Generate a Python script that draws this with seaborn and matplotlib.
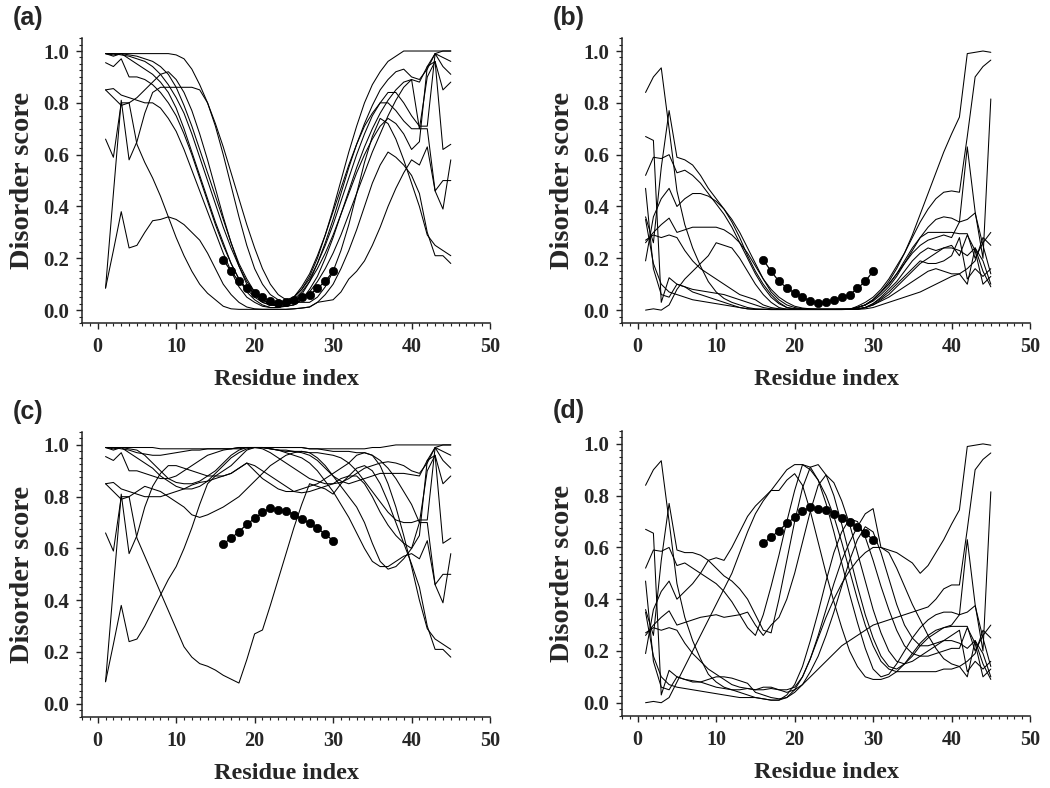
import numpy as np
import pandas as pd
import matplotlib
matplotlib.use("Agg")
import matplotlib.pyplot as plt
from matplotlib.ticker import MultipleLocator, FormatStrFormatter
import seaborn as sns

# ---------------- data ----------------
residues = list(range(1, 46))
dot_residues = list(range(16, 31))
dots_low = [.194, .150, .111, .086, .066, .050, .035, .026, .032, .041, .050, .059, .084, .111, .150]
dots_high = [.618, .639, .665, .693, .716, .739, .757, .748, .746, .731, .714, .697, .678, .655, .630]

# flanks shared by panels (a) and (c): residues 1-5 and 41-45
ac_left = [
    [.99, .99, .99, .99, .99],
    [.99, .985, .99, .985, .98],
    [.99, .98, .99, .97, .95],
    [.955, .94, .97, .90, .90],
    [.85, .855, .83, .82, .81],
    [.85, .82, .79, .80, .82],
    [.085, .45, .81, .58, .65],
    [.66, .59, .80, .80, .64],
    [.085, .23, .38, .24, .25],
    [.99, .99, .985, .98, .97],
]
ac_right = [
    [1.0, 1.0, 1.0, 1.0, 1.0],
    [.89, .93, .99, 1.0, 1.0],
    [.88, .94, .99, .975, .96],
    [.71, .71, .99, .94, .91],
    [.65, .94, .96, .85, .88],
    [.70, .90, .96, .62, .64],
    [.40, .29, .25, .23, .21],
    [.45, .30, .21, .21, .18],
    [.56, .63, .46, .39, .58],
    [.70, .70, .46, .50, .50],
]
# residues 6-40
a_mid = [
    [.99, .99, .99, .99, .985, .97, .93, .87, .80, .72, .63, .53, .43, .33, .24, .16, .10, .06, .04, .05, .08, .13, .20, .29, .39, .50, .61, .71, .80, .87, .92, .96, .98, 1.0, 1.0],
    [.97, .96, .94, .91, .86, .79, .71, .62, .53, .44, .35, .26, .18, .12, .07, .04, .025, .02, .02, .03, .06, .11, .18, .26, .35, .45, .55, .64, .72, .79, .85, .89, .92, .93, .90],
    [.93, .91, .88, .84, .78, .70, .61, .52, .43, .34, .26, .18, .12, .07, .04, .02, .01, .01, .015, .02, .04, .08, .13, .20, .28, .37, .46, .55, .63, .70, .76, .81, .85, .88, .89],
    [.89, .87, .84, .80, .75, .68, .60, .51, .42, .33, .25, .18, .12, .08, .05, .03, .02, .02, .03, .05, .08, .12, .18, .25, .33, .42, .51, .60, .68, .75, .80, .84, .84, .80, .75],
    [.80, .80, .78, .74, .69, .62, .54, .46, .38, .30, .22, .15, .09, .05, .03, .015, .01, .01, .02, .04, .07, .11, .16, .22, .29, .37, .45, .53, .60, .66, .71, .74, .72, .68, .62],
    [.85, .88, .91, .92, .89, .84, .77, .68, .58, .47, .36, .26, .17, .10, .06, .03, .02, .02, .03, .05, .09, .14, .21, .29, .38, .47, .56, .64, .71, .76, .80, .80, .77, .73, .70],
    [.76, .84, .86, .86, .86, .86, .86, .85, .80, .71, .60, .48, .36, .25, .16, .10, .06, .04, .03, .03, .03, .03, .05, .09, .15, .23, .33, .45, .57, .67, .74, .72, .66, .58, .49],
    [.57, .51, .44, .36, .28, .21, .15, .10, .065, .04, .015, .005, .003, .003, .003, .003, .003, .003, .003, .005, .008, .012, .03, .06, .10, .16, .23, .31, .40, .49, .56, .61, .59, .56, .52],
    [.30, .345, .35, .36, .35, .33, .30, .27, .22, .16, .10, .06, .03, .012, .005, .003, .003, .003, .003, .005, .008, .012, .03, .035, .04, .07, .12, .15, .19, .25, .32, .40, .47, .53, .58],
    [.96, .94, .91, .87, .82, .76, .68, .59, .50, .41, .32, .24, .17, .11, .07, .04, .02, .015, .015, .02, .04, .07, .11, .16, .22, .29, .37, .45, .53, .61, .68, .75, .81, .86, .89],
]
c_mid = [
    [.99, .99, .985, .985, .985, .985, .985, .985, .985, .985, .985, .985, .985, .99, .99, .99, .99, .99, .99, .99, .99, .985, .985, .985, .985, .985, .985, .985, .985, .99, .99, .995, 1.0, 1.0, 1.0],
    [.96, .93, .90, .87, .855, .85, .85, .86, .88, .90, .93, .96, .98, .99, .99, .985, .97, .95, .93, .91, .89, .87, .86, .85, .85, .855, .87, .89, .91, .92, .93, .935, .93, .92, .90],
    [.93, .91, .88, .86, .84, .83, .83, .84, .86, .89, .92, .95, .97, .985, .99, .99, .985, .98, .975, .975, .97, .96, .94, .91, .88, .86, .85, .86, .87, .88, .89, .89, .89, .89, .885],
    [.89, .88, .87, .87, .88, .90, .92, .94, .96, .97, .98, .985, .99, .99, .99, .99, .985, .98, .98, .975, .975, .97, .97, .965, .96, .95, .93, .90, .86, .82, .78, .74, .71, .70, .70],
    [.80, .80, .80, .81, .82, .83, .845, .855, .86, .87, .88, .89, .91, .93, .92, .90, .88, .86, .84, .82, .815, .82, .83, .84, .85, .87, .88, .88, .85, .80, .74, .69, .65, .62, .60],
    [.84, .83, .82, .80, .78, .76, .73, .72, .73, .745, .76, .78, .80, .83, .86, .89, .92, .94, .96, .97, .975, .97, .95, .92, .88, .84, .80, .76, .70, .62, .55, .52, .53, .56, .60],
    [.76, .84, .89, .92, .92, .91, .90, .89, .88, .88, .88, .89, .91, .93, .90, .87, .85, .83, .82, .82, .83, .84, .85, .87, .89, .91, .93, .96, .97, .96, .92, .85, .76, .65, .53],
    [.57, .50, .43, .36, .29, .22, .18, .155, .145, .13, .11, .095, .08, .17, .27, .285, .38, .48, .58, .68, .77, .85, .84, .83, .81, .85, .88, .91, .92, .90, .85, .78, .70, .62, .54],
    [.30, .36, .42, .48, .53, .60, .68, .77, .85, .88, .90, .92, .95, .98, .99, .99, .985, .98, .97, .96, .95, .93, .90, .86, .82, .77, .72, .66, .60, .55, .53, .53, .55, .57, .58],
    [.965, .96, .96, .965, .97, .975, .98, .98, .985, .985, .985, .985, .99, .99, .99, .99, .99, .99, .99, .99, .99, .985, .985, .98, .975, .975, .975, .97, .97, .96, .94, .91, .87, .82, .77],
]

# flanks shared by panels (b) and (d)
bd_left = [
    [.84, .90, .935, .70, .46],
    [.67, .655, .03, .125, .10],
    [.52, .59, .585, .60, .53],
    [.36, .26, .55, .77, .59],
    [.47, .16, .06, .05, .10],
    [.19, .36, .43, .47, .40],
    [.26, .30, .33, .355, .30],
    [.27, .29, .28, .29, .28],
    [.0, .005, .0, .02, .08],
    [.35, .18, .10, .07, .06],
]
bd_right = [
    [.745, .99, .995, 1.0, .995],
    [.455, .67, .90, .94, .965],
    [.34, .35, .375, .25, .14],
    [.295, .295, .20, .26, .30],
    [.21, .29, .23, .10, .13],
    [.34, .63, .38, .20, .815],
    [.28, .12, .16, .13, .16],
    [.23, .21, .24, .19, .10],
    [.14, .16, .19, .28, .25],
    [.14, .10, .24, .15, .09],
]
b_mid = [
    [.33, .24, .17, .11, .07, .045, .03, .02, .01, .005, .003, .002, .002, .002, .002, .002, .002, .002, .002, .002, .002, .003, .01, .02, .04, .07, .11, .16, .22, .29, .37, .45, .53, .61, .68],
    [.09, .08, .075, .07, .065, .06, .05, .04, .03, .02, .01, .005, .003, .003, .003, .003, .003, .003, .003, .003, .003, .003, .015, .03, .05, .08, .12, .17, .22, .28, .34, .39, .43, .455, .46],
    [.54, .52, .49, .45, .41, .37, .32, .26, .20, .14, .09, .05, .025, .01, .005, .003, .003, .003, .003, .003, .004, .005, .01, .02, .035, .06, .09, .13, .18, .23, .28, .32, .35, .36, .355],
    [.58, .56, .52, .47, .43, .39, .34, .28, .21, .15, .10, .06, .03, .01, .005, .003, .003, .003, .003, .003, .003, .003, .01, .02, .04, .07, .10, .14, .19, .24, .28, .30, .30, .30, .30],
    [.09, .07, .06, .05, .04, .03, .02, .01, .005, .003, .003, .003, .003, .003, .003, .003, .003, .003, .003, .003, .003, .003, .003, .01, .02, .04, .06, .09, .12, .15, .18, .20, .22, .24, .25],
    [.43, .45, .45, .44, .42, .39, .35, .30, .24, .18, .12, .07, .04, .02, .01, .005, .003, .003, .003, .003, .003, .003, .01, .02, .04, .07, .10, .14, .18, .22, .25, .27, .28, .29, .28],
    [.31, .32, .32, .32, .32, .31, .29, .26, .22, .17, .12, .08, .05, .03, .015, .008, .005, .003, .003, .003, .003, .003, .005, .01, .025, .045, .07, .10, .13, .16, .19, .18, .18, .19, .21],
    [.23, .19, .16, .14, .12, .10, .08, .06, .05, .04, .02, .01, .005, .003, .003, .003, .003, .003, .003, .003, .003, .003, .005, .01, .025, .05, .08, .11, .15, .19, .22, .24, .23, .24, .24],
    [.12, .15, .18, .21, .26, .25, .24, .20, .15, .10, .06, .03, .01, .003, .003, .003, .003, .003, .003, .003, .003, .003, .003, .005, .01, .02, .03, .04, .05, .06, .07, .085, .10, .115, .13],
    [.05, .04, .035, .03, .025, .02, .015, .01, .005, .003, .003, .003, .003, .003, .003, .003, .003, .003, .003, .003, .003, .003, .003, .01, .02, .035, .05, .07, .09, .11, .13, .15, .16, .15, .14],
]
d_mid = [
    [.33, .24, .17, .11, .08, .06, .05, .05, .055, .05, .06, .06, .05, .05, .06, .10, .17, .26, .36, .46, .55, .62, .68, .73, .75, .60, .59, .58, .56, .54, .50, .53, .58, .63, .69],
    [.09, .08, .08, .09, .10, .10, .095, .085, .075, .04, .03, .02, .015, .02, .04, .07, .10, .13, .16, .19, .22, .24, .26, .28, .30, .31, .32, .33, .34, .35, .36, .37, .40, .44, .455],
    [.54, .52, .50, .48, .46, .43, .39, .34, .29, .26, .34, .45, .57, .70, .82, .92, .91, .86, .77, .66, .54, .42, .31, .21, .13, .10, .11, .15, .20, .25, .29, .32, .34, .35, .35],
    [.58, .58, .57, .55, .52, .49, .47, .44, .40, .34, .28, .27, .40, .55, .70, .83, .91, .92, .88, .80, .69, .57, .45, .34, .25, .18, .14, .13, .15, .19, .23, .26, .28, .29, .295],
    [.09, .085, .08, .07, .06, .055, .05, .04, .03, .02, .015, .01, .01, .03, .07, .14, .24, .35, .47, .58, .66, .71, .70, .64, .55, .45, .36, .28, .22, .19, .18, .18, .19, .20, .21],
    [.43, .46, .50, .55, .56, .55, .60, .66, .72, .76, .79, .82, .82, .86, .885, .84, .74, .62, .50, .39, .29, .20, .14, .10, .09, .09, .10, .12, .15, .18, .22, .25, .27, .29, .30],
    [.31, .32, .33, .335, .34, .33, .335, .34, .35, .30, .26, .30, .33, .40, .50, .62, .74, .84, .88, .85, .78, .69, .58, .47, .36, .27, .20, .16, .15, .16, .18, .20, .22, .24, .26],
    [.23, .19, .16, .13, .11, .09, .07, .06, .055, .05, .05, .055, .05, .04, .05, .07, .12, .18, .26, .35, .45, .55, .63, .68, .66, .58, .48, .38, .30, .25, .22, .22, .23, .24, .24],
    [.14, .20, .26, .32, .38, .44, .50, .58, .66, .73, .78, .82, .86, .90, .92, .92, .90, .86, .80, .72, .62, .51, .40, .30, .22, .16, .13, .12, .12, .12, .12, .12, .12, .13, .13],
    [.055, .05, .045, .04, .035, .03, .025, .02, .02, .02, .015, .01, .01, .02, .05, .10, .17, .25, .33, .40, .46, .51, .55, .58, .60, .60, .58, .52, .45, .38, .32, .26, .21, .17, .15],
]

panel_tags = ["(a)", "(b)", "(c)", "(d)"]
x_ticks = [0, 10, 20, 30, 40, 50]
y_ticks = [0.0, 0.2, 0.4, 0.6, 0.8, 1.0]

# ---------------- style ----------------
sns.set_style("ticks")
plt.rcParams["font.family"] = ["Liberation Serif", "DejaVu Serif"]
plt.rcParams["font.weight"] = "bold"

fig = plt.figure(figsize=(10.5, 7.88), dpi=100)

positions = [
    [0.0781, 0.590, 0.3886, 0.3617],
    [0.5924, 0.590, 0.3886, 0.3617],
    [0.0781, 0.0905, 0.3886, 0.3613],
    [0.5924, 0.0918, 0.3886, 0.3613],
]
tag_pos = [(0.012, 0.992), (0.526, 0.992), (0.012, 0.492), (0.526, 0.494)]


def build_lines(left, mid, right):
    return [l + m + r for l, m, r in zip(left, mid, right)]


panels = [
    (build_lines(ac_left, a_mid, ac_right), dots_low),
    (build_lines(bd_left, b_mid, bd_right), dots_low),
    (build_lines(ac_left, c_mid, ac_right), dots_high),
    (build_lines(bd_left, d_mid, bd_right), dots_high),
]

for i, (lines, dots) in enumerate(panels):
    ax = fig.add_axes(positions[i])
    df = pd.DataFrame({
        "residue": np.tile(residues, len(lines)),
        "score": np.concatenate(lines),
        "seq": np.repeat(np.arange(len(lines)), len(residues)),
    })
    sns.lineplot(data=df, x="residue", y="score", units="seq", estimator=None,
                 color="black", lw=0.75, ax=ax, legend=False)
    sns.lineplot(x=dot_residues, y=dots, color="black", lw=0.9, marker="o",
                 markersize=6, markeredgecolor="black", markeredgewidth=0.5,
                 ax=ax, legend=False)
    ax.set_xlim(-2, 50)
    ax.set_ylim(-0.05, 1.05)
    ax.set_xticks(x_ticks)
    ax.set_yticks(y_ticks)
    ax.xaxis.set_minor_locator(MultipleLocator(1))
    ax.yaxis.set_minor_locator(MultipleLocator(0.025))
    ax.yaxis.set_major_formatter(FormatStrFormatter("%.1f"))
    for s in ["top", "right"]:
        ax.spines[s].set_visible(False)
    for s in ["left", "bottom"]:
        ax.spines[s].set_linewidth(1.1)
        ax.spines[s].set_color("#222222")
    ax.tick_params(which="major", direction="out", length=4, width=1.0, color="#222222")
    ax.tick_params(which="minor", direction="out", length=2.5, width=0.8, color="#222222")
    ax.tick_params(axis="x", labelsize=14.5, pad=6)
    ax.tick_params(axis="y", labelsize=15, pad=5)
    for lab in ax.get_xticklabels() + ax.get_yticklabels():
        lab.set_fontweight("bold")
    ax.set_xlabel("Residue index", fontsize=17.5, fontweight="bold", labelpad=9)
    ax.set_ylabel("Disorder score", fontsize=20.5, fontweight="bold", labelpad=6)
    fig.text(tag_pos[i][0], tag_pos[i][1], panel_tags[i], ha="left", va="top",
             fontsize=18, fontweight="bold", family=["Liberation Sans", "DejaVu Sans"])

fig.savefig("out.png", dpi=100)
